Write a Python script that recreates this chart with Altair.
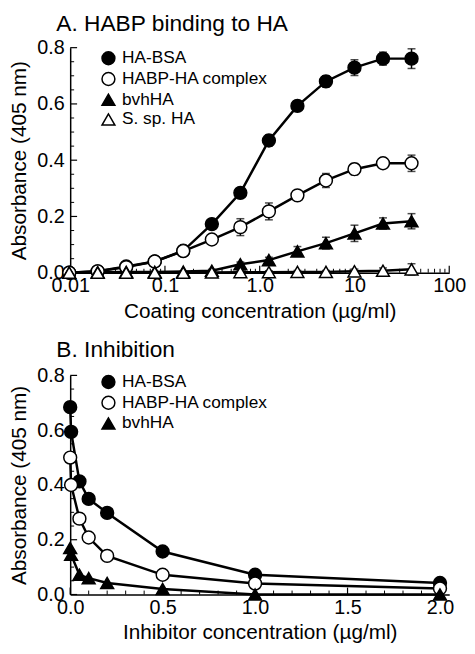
import altair as alt
import pandas as pd

FONT = "Liberation Sans"

# ---------------- Panel A data ----------------
SERIES_A = ["HA-BSA", "HABP-HA complex", "bvhHA", "S. sp. HA"]
CONC_A = [0.00977, 0.0195, 0.039, 0.078, 0.156, 0.3125, 0.625, 1.25, 2.5, 5, 10, 20, 40]
HA_BSA_A = [0.0, 0.005, 0.022, 0.04, 0.078, 0.173, 0.284, 0.47, 0.593, 0.68, 0.729, 0.761, 0.761]
HABP_A = [0.0, 0.005, 0.02, 0.04, 0.077, 0.118, 0.162, 0.218, 0.275, 0.328, 0.368, 0.389, 0.389]
BVH_A = [0.0, 0.002, 0.003, 0.003, 0.004, 0.007, 0.03, 0.045, 0.076, 0.105, 0.14, 0.175, 0.183]
SSP_A = [0.0, 0.0, 0.0, 0.0, 0.0, 0.001, 0.002, 0.002, 0.003, 0.003, 0.005, 0.007, 0.012]
ERR_HA_BSA_A = [0.0, 0.0, 0.005, 0.005, 0.008, 0.012, 0.015, 0.02, 0.018, 0.02, 0.028, 0.023, 0.035]
ERR_HABP_A = [0.0, 0.0, 0.005, 0.005, 0.008, 0.01, 0.03, 0.03, 0.015, 0.025, 0.02, 0.017, 0.029]
ERR_BVH_A = [0.0, 0.0, 0.0, 0.0, 0.0, 0.005, 0.008, 0.01, 0.017, 0.021, 0.029, 0.02, 0.027]
ERR_SSP_A = [0.0, 0.0, 0.0, 0.0, 0.0, 0.0, 0.005, 0.005, 0.005, 0.005, 0.008, 0.01, 0.02]

# ---------------- Panel B data ----------------
SERIES_B = ["HA-BSA", "HABP-HA complex", "bvhHA"]
CONC_B = [0.0, 0.005, 0.05, 0.1, 0.2, 0.5, 1.0, 2.0]
HA_BSA_B = [0.684, 0.594, 0.413, 0.349, 0.298, 0.157, 0.072, 0.042]
HABP_B = [0.50, 0.40, 0.277, 0.208, 0.141, 0.072, 0.04, 0.022]
BVH_B = [0.17, 0.145, 0.072, 0.06, 0.042, 0.02, 0.0, 0.0]

# ---------------- Axis tick values ----------------
Y_MAJOR = [0.0, 0.2, 0.4, 0.6, 0.8]
Y_MINOR = [0.05, 0.1, 0.15, 0.25, 0.3, 0.35, 0.45, 0.5, 0.55, 0.65, 0.7, 0.75]
XA_MAJOR = [0.01, 0.1, 1, 10, 100]
XA_LABELS = ["0.01", "0.1", "1.0", "10", "100"]
XA_MINOR = [m * d for d in [0.01, 0.1, 1, 10] for m in [2, 3, 4, 5, 6, 7, 8, 9]]
XB_MAJOR = [0.0, 0.5, 1.0, 1.5, 2.0]
XB_MINOR = [0.1, 0.2, 0.3, 0.4, 0.6, 0.7, 0.8, 0.9, 1.1, 1.2, 1.3, 1.4, 1.6, 1.7, 1.8, 1.9]

W = 384
H_A = 228
H_B = 222

SHAPES = {"HA-BSA": "circle", "HABP-HA complex": "circle", "bvhHA": "triangle-up", "S. sp. HA": "triangle-up"}
FILLS = {"HA-BSA": "black", "HABP-HA complex": "white", "bvhHA": "black", "S. sp. HA": "white"}


def long_df(series, conc, values, errs=None):
    rows = []
    for i, s in enumerate(series):
        for j, c in enumerate(conc):
            r = {"series": s, "conc": c, "value": values[i][j]}
            if errs is not None:
                r["lo"] = values[i][j] - errs[i][j]
                r["hi"] = values[i][j] + errs[i][j]
            rows.append(r)
    return pd.DataFrame(rows)


def panel(df, series, x_scale, x_axis, x_title, x_major, x_minor, height, title, title_offset,
          legend_y, with_err):
    x = alt.X("conc:Q", scale=x_scale, axis=x_axis, title=x_title)
    y_scale = alt.Scale(domain=[0, 0.8], nice=False, zero=True, padding=0)
    y_axis = alt.Axis(values=Y_MAJOR, format=".1f", ticks=False, grid=False,
                      labelPadding=6, titlePadding=7, minExtent=33)
    y = alt.Y("value:Q", scale=y_scale, axis=y_axis, title="Absorbance (405 nm)")

    lines = alt.Chart(df).mark_line(color="black", strokeWidth=2.5).encode(
        x=x, y=y, detail="series:N", order="conc:Q")

    legend = alt.Legend(orient="none", legendX=30, legendY=legend_y, title=None,
                        labelFont=FONT, labelFontSize=17.5, labelColor="black",
                        symbolSize=170, symbolStrokeColor="black", symbolStrokeWidth=1.5,
                        rowPadding=1, labelOffset=5, padding=0)
    shape = alt.Shape("series:N", scale=alt.Scale(domain=series, range=[SHAPES[s] for s in series]),
                      legend=legend, title=None)
    fill = alt.Fill("series:N", scale=alt.Scale(domain=series, range=[FILLS[s] for s in series]),
                    legend=legend, title=None)
    stroke = alt.Stroke("series:N", scale=alt.Scale(domain=series, range=["black" for s in series]),
                        legend=legend, title=None)
    points = alt.Chart(df).mark_point(size=170, strokeWidth=1.5, opacity=1).encode(
        x=x, y=y, shape=shape, fill=fill, stroke=stroke)

    xt_major = alt.Chart(pd.DataFrame({"conc": x_major})).mark_rule(color="black", strokeWidth=1.2).encode(
        x=x, y=alt.value(height), y2=alt.value(height - 7))
    xt_minor = alt.Chart(pd.DataFrame({"conc": x_minor})).mark_rule(color="black", strokeWidth=1).encode(
        x=x, y=alt.value(height), y2=alt.value(height - 4))
    yt_major = alt.Chart(pd.DataFrame({"value": Y_MAJOR})).mark_rule(color="black", strokeWidth=1.2).encode(
        y=y, x=alt.value(0), x2=alt.value(7))
    yt_minor = alt.Chart(pd.DataFrame({"value": Y_MINOR})).mark_rule(color="black", strokeWidth=1).encode(
        y=y, x=alt.value(0), x2=alt.value(4))

    layers = [xt_minor, xt_major, yt_minor, yt_major, lines]
    if with_err:
        ebar = alt.Chart(df).mark_rule(color="black", strokeWidth=1.5).encode(
            x=x, y=alt.Y("lo:Q", scale=y_scale), y2="hi:Q")
        cap_hi = alt.Chart(df).mark_tick(color="black", thickness=1.5, size=8, orient="horizontal").encode(
            x=x, y=alt.Y("hi:Q", scale=y_scale))
        cap_lo = alt.Chart(df).mark_tick(color="black", thickness=1.5, size=8, orient="horizontal").encode(
            x=x, y=alt.Y("lo:Q", scale=y_scale))
        layers += [ebar, cap_hi, cap_lo]
    layers.append(points)

    return alt.layer(*layers).properties(
        width=W, height=height,
        title=alt.TitleParams(text=title, anchor="start", frame="group", dx=-14,
                              font=FONT, fontSize=23, fontWeight="normal", color="black",
                              offset=title_offset),
    )


df_a = long_df(SERIES_A, CONC_A, [HA_BSA_A, HABP_A, BVH_A, SSP_A],
               [ERR_HA_BSA_A, ERR_HABP_A, ERR_BVH_A, ERR_SSP_A])
df_b = long_df(SERIES_B, CONC_B, [HA_BSA_B, HABP_B, BVH_B])

label_expr_a = " : ".join(
    [f"datum.value == {v} ? '{l}'" for v, l in zip(XA_MAJOR, XA_LABELS)] + ["''"])

x_scale_a = alt.Scale(type="log", domain=[0.01, 100], nice=False, padding=0)
x_axis_a = alt.Axis(values=XA_MAJOR, labelExpr=label_expr_a, ticks=False, grid=False,
                    labelFlush=False, labelOverlap=False, labelPadding=3, titlePadding=5)
x_scale_b = alt.Scale(domain=[0, 2.05], nice=False, zero=True, padding=0)
x_axis_b = alt.Axis(values=XB_MAJOR, format=".1f", ticks=False, grid=False,
                    labelFlush=False, labelOverlap=False, labelPadding=3, titlePadding=5)

panel_a = panel(df_a, SERIES_A, x_scale_a, x_axis_a, "Coating concentration (µg/ml)",
                XA_MAJOR, XA_MINOR, H_A, "A. HABP binding to HA", 2, 2, True)
panel_b = panel(df_b, SERIES_B, x_scale_b, x_axis_b, "Inhibitor concentration (µg/ml)",
                XB_MAJOR, XB_MINOR, H_B, "B. Inhibition", 4, -2, False)

chart = alt.vconcat(panel_a, panel_b, spacing=16).resolve_scale(
    shape="independent", fill="independent", stroke="independent"
).resolve_legend(
    shape="independent", fill="independent", stroke="independent"
).properties(
    padding={"left": 0, "top": 0, "right": 0, "bottom": 0}
).configure_view(stroke="transparent").configure_axis(
    labelFont=FONT, labelFontSize=20, labelColor="black",
    titleFont=FONT, titleFontSize=21, titleFontWeight="normal", titleColor="black",
    domainColor="black", domainWidth=1.5,
).configure_legend(labelLimit=300)

chart.save("out.html", embed_options={"renderer": "svg", "actions": False})
